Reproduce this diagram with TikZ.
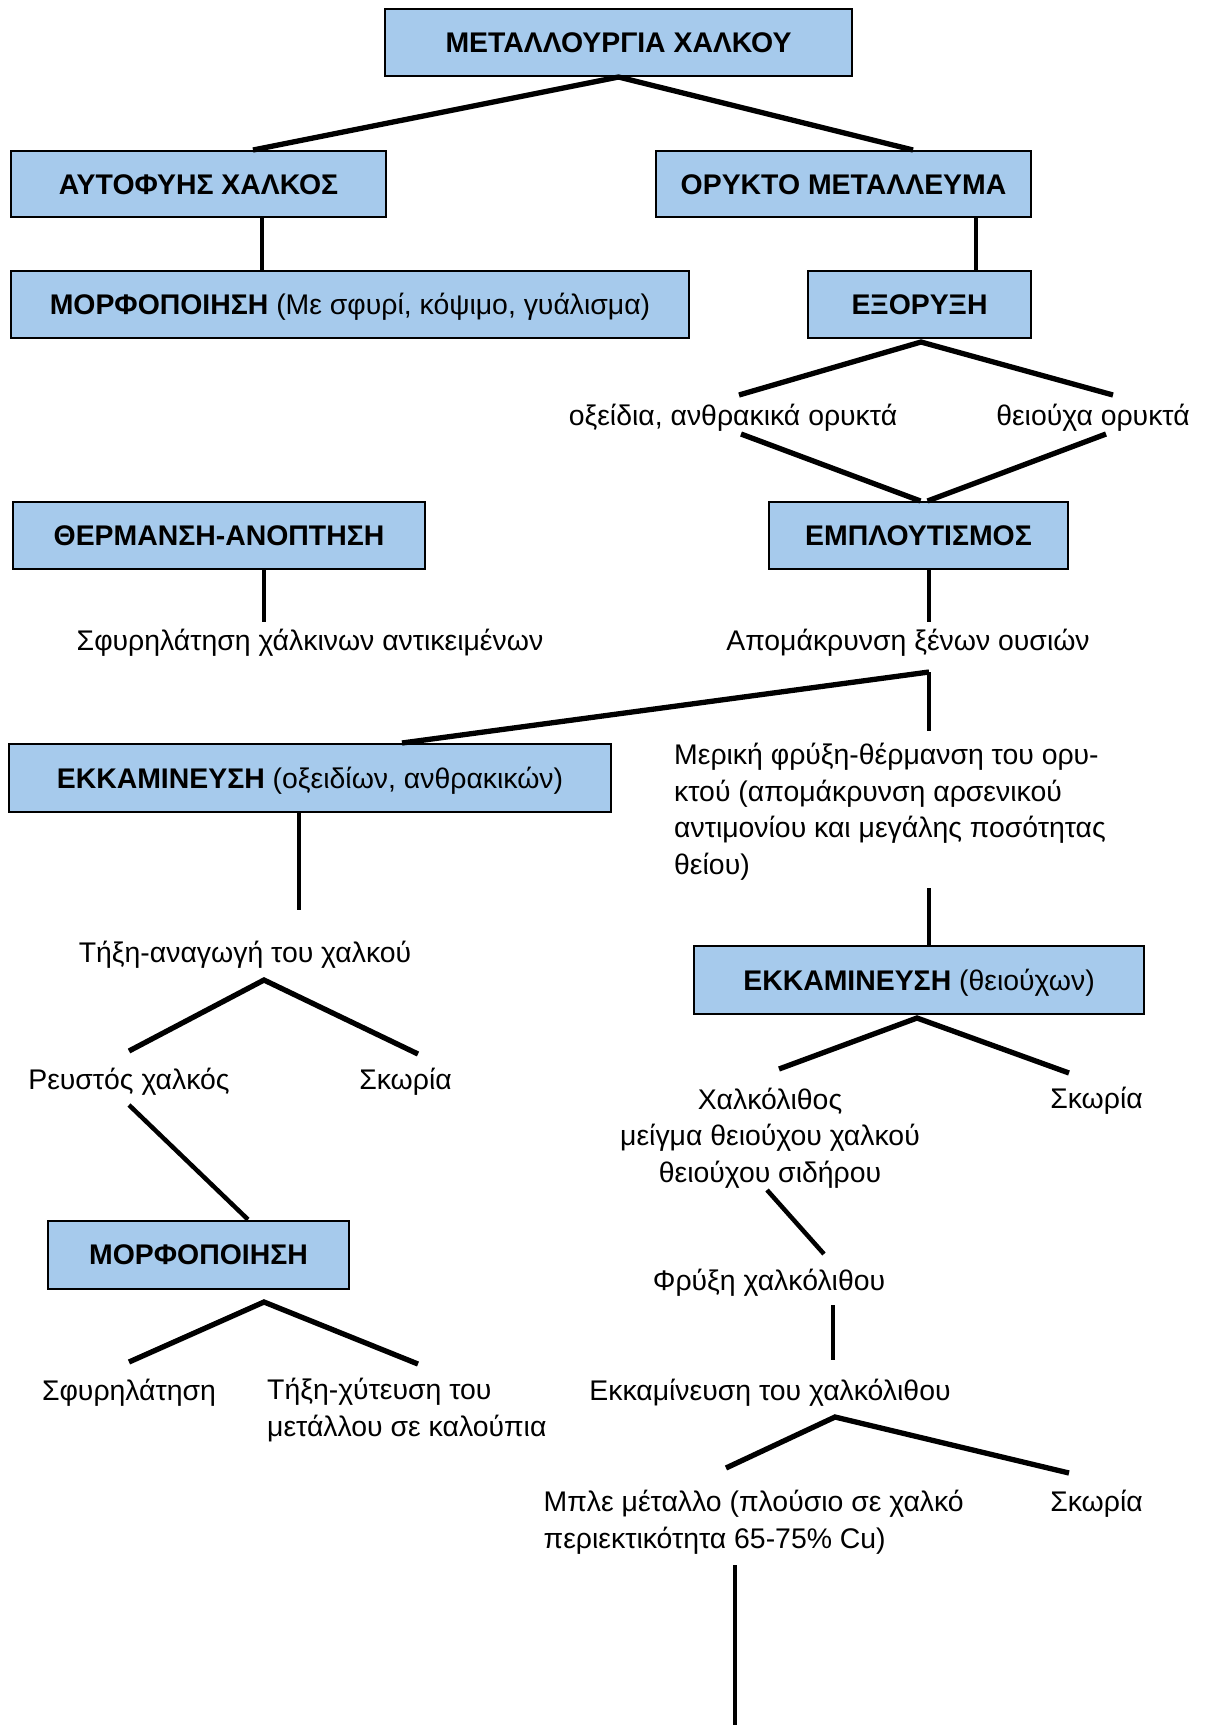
\documentclass[tikz,border=0pt]{standalone}
\usepackage{fontspec}
\setmainfont{Liberation Sans}
\usetikzlibrary{calc}
\definecolor{boxblue}{RGB}{166,202,236}
\begin{document}
\begin{tikzpicture}[x=1pt,y=-1pt,
  font=\fontsize{28.4}{36.5}\selectfont,
  box/.style={draw=black, line width=2pt, fill=boxblue, inner sep=0pt,
    text height=20.3pt, text depth=0pt},
  lbl/.style={inner sep=0pt, anchor=base},
  conn/.style={line width=5.3pt, line join=miter},
  vconn/.style={line width=4.5pt}]
\useasboundingbox (0,0) rectangle (1207,1725);

% boxes
\node[box, minimum width=467pt, minimum height=67pt] (root) at (618.5,42.5) {\textbf{ΜΕΤΑΛΛΟΥΡΓΙΑ ΧΑΛΚΟΥ}};
\node[box, minimum width=375pt, minimum height=66pt] (auto) at (198.5,184) {\textbf{ΑΥΤΟΦΥΗΣ ΧΑΛΚΟΣ}};
\node[box, minimum width=375pt, minimum height=66pt] (ore) at (843.5,184) {\textbf{ΟΡΥΚΤΟ ΜΕΤΑΛΛΕΥΜΑ}};
\node[box, minimum width=678pt, minimum height=67pt] (morfA) at (350,304.5) {\textbf{ΜΟΡΦΟΠΟΙΗΣΗ} (Με σφυρί, κόψιμο, γυάλισμα)};
\node[box, minimum width=223pt, minimum height=67pt] (exo) at (919.5,304.5) {\textbf{ΕΞΟΡΥΞΗ}};
\node[box, minimum width=412pt, minimum height=67pt] (therm) at (219,535.5) {\textbf{ΘΕΡΜΑΝΣΗ-ΑΝΟΠΤΗΣΗ}};
\node[box, minimum width=299pt, minimum height=67pt] (emp) at (918.5,535.5) {\textbf{ΕΜΠΛΟΥΤΙΣΜΟΣ}};
\node[box, minimum width=602pt, minimum height=68pt] (ekkA) at (310,778) {\textbf{ΕΚΚΑΜΙΝΕΥΣΗ} (οξειδίων, ανθρακικών)};
\node[box, minimum width=450pt, minimum height=68pt] (ekkB) at (919,980) {\textbf{ΕΚΚΑΜΙΝΕΥΣΗ} (θειούχων)};
\node[box, minimum width=301pt, minimum height=68pt] (morfB) at (198.5,1254.5) {\textbf{ΜΟΡΦΟΠΟΙΗΣΗ}};

% text labels (multi-line ones anchored at the baseline of their last line)
\node[lbl] (oxi) at (733,425) {οξείδια, ανθρακικά ορυκτά};
\node[lbl] (theio) at (1093,425) {θειούχα ορυκτά};
\node[lbl] (sfyrA) at (310,650) {Σφυρηλάτηση χάλκινων αντικειμένων};
\node[lbl] (apom) at (908,650) {Απομάκρυνση ξένων ουσιών};
\node[lbl, anchor=base west, align=left] (merik) at (674,874) {Μερική φρύξη-θέρμανση του ορυ-\\κτού (απομάκρυνση αρσενικού\\αντιμονίου και μεγάλης ποσότητας\\θείου)};
\node[lbl] (tixi) at (245,962) {Τήξη-αναγωγή του χαλκού};
\node[lbl] (reu) at (129,1089) {Ρευστός χαλκός};
\node[lbl] (skA) at (405.5,1089) {Σκωρία};
\node[lbl, align=center] (xal) at (770,1182) {Χαλκόλιθος\\μείγμα θειούχου χαλκού\\θειούχου σιδήρου};
\node[lbl] (skB) at (1096.5,1108) {Σκωρία};
\node[lbl] (fry) at (769,1290) {Φρύξη χαλκόλιθου};
\node[lbl] (sfyrB) at (129,1400) {Σφυρηλάτηση};
\node[lbl, anchor=base west, align=left] (xyt) at (267,1436) {Τήξη-χύτευση του\\μετάλλου σε καλούπια};
\node[lbl] (ekkC) at (770,1400) {Εκκαμίνευση του χαλκόλιθου};
\node[lbl, anchor=base west, align=left] (mple) at (543.5,1548) {Μπλε μέταλλο (πλούσιο σε χαλκό\\περιεκτικότητα 65-75\% Cu)};
\node[lbl] (skC) at (1096.5,1511) {Σκωρία};

% connector end points
\coordinate (oxiT) at (739,395);
\coordinate (oxiB) at (741,434);
\coordinate (theT) at (1113,395);
\coordinate (theB) at (1106,434);
\coordinate (sfyT) at (264,622);
\coordinate (apoT) at (929,622);
\coordinate (apoB) at (929,672);
\coordinate (merT) at (929,731);
\coordinate (merB) at (929,888);
\coordinate (tixT) at (299,910);
\coordinate (tixB) at (264,980);
\coordinate (reuT) at (129,1051);
\coordinate (skAT) at (418,1054);
\coordinate (reuB) at (129,1105);
\coordinate (xalT) at (779,1069);
\coordinate (skBT) at (1069,1073);
\coordinate (xalB) at (767,1190);
\coordinate (fryT) at (824,1254);
\coordinate (fryB) at (833,1305);
\coordinate (ekkCT) at (833,1360);
\coordinate (morfBB) at (264,1302);
\coordinate (sfyBT) at (129,1362);
\coordinate (xytT) at (418,1364);
\coordinate (ekkCB) at (835,1417);
\coordinate (mpleT) at (726,1468);
\coordinate (skCT) at (1069,1473);
\coordinate (mpleB) at (735,1565);
\coordinate (bottomEnd) at (735,1725);

% connectors
\draw[conn] ($(auto.north)+(54.5,0)$) -- (root.south) -- ($(ore.north)+(69.5,0)$);
\draw[vconn] ($(auto.south)+(63.5,0)$) -- ($(morfA.north)+(-88,0)$);
\draw[vconn] ($(ore.south)+(132.5,0)$) -- ($(exo.north)+(56.5,0)$);
\draw[conn] (oxiT) -- ($(exo.south)+(1.5,3)$) -- (theT);
\draw[conn] (oxiB) -- ($(emp.north)+(2,0)$);
\draw[conn] (theB) -- ($(emp.north)+(9,0)$);
\draw[vconn] ($(therm.south)+(45,0)$) -- (sfyT);
\draw[vconn] ($(emp.south)+(10.5,0)$) -- (apoT);
\draw[conn] ($(ekkA.north)+(92,0)$) -- (apoB);
\draw[vconn] (apoB) -- (merT);
\draw[vconn] (merB) -- ($(ekkB.north)+(10,0)$);
\draw[vconn] ($(ekkA.south)+(-11,0)$) -- (tixT);
\draw[conn] (reuT) -- (tixB) -- (skAT);
\draw[vconn] (reuB) -- ($(morfB.north)+(49.5,0)$);
\draw[conn] (xalT) -- ($(ekkB.south)+(-2,3)$) -- (skBT);
\draw[vconn] (xalB) -- (fryT);
\draw[vconn] (fryB) -- (ekkCT);
\draw[conn] (sfyBT) -- (morfBB) -- (xytT);
\draw[conn] (mpleT) -- (ekkCB) -- (skCT);
\draw[vconn] (mpleB) -- (bottomEnd);
\end{tikzpicture}
\end{document}
